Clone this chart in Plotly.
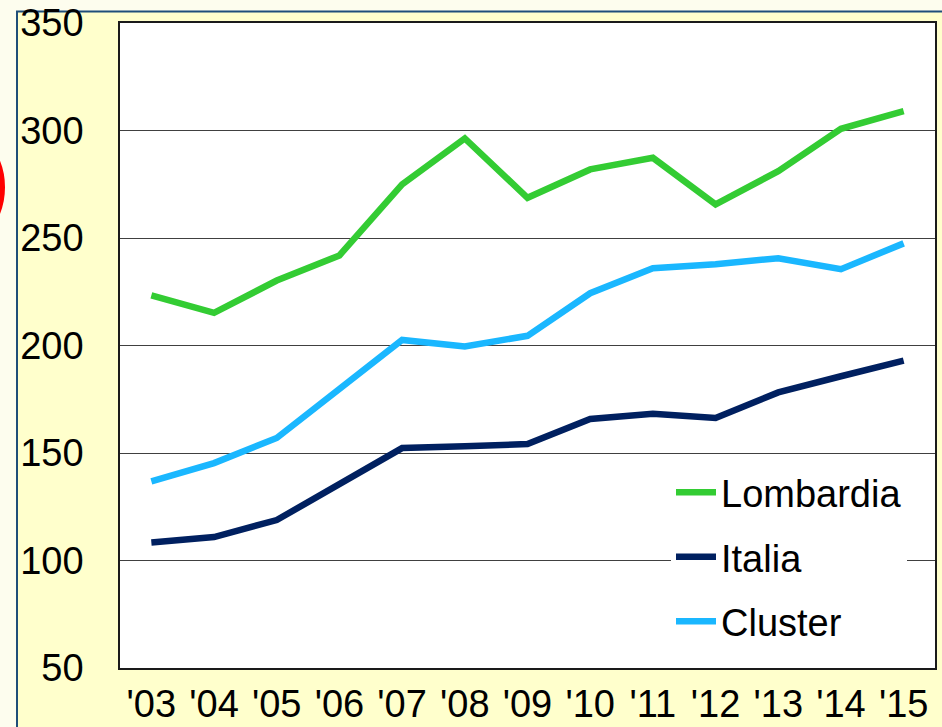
import plotly.graph_objects as go

# Figure geometry (pixels)
W, H = 942, 727
L, R, T, B = 120, 935, 22.5, 668

years = ["'03", "'04", "'05", "'06", "'07", "'08", "'09", "'10", "'11", "'12", "'13", "'14", "'15"]
lombardia = [223.3, 215.2, 230.2, 241.9, 274.9, 296.3, 268.7, 281.9, 287.3, 265.6, 281.1, 300.8, 309.0]
italia = [108.4, 110.9, 118.8, 135.9, 152.3, 153.1, 154.2, 165.8, 168.3, 166.3, 178.2, 185.7, 193.0]
cluster = [136.8, 145.3, 157.0, 180.1, 202.6, 199.6, 204.5, 224.3, 235.9, 237.8, 240.6, 235.5, 247.5]

y_ticks = [50, 100, 150, 200, 250, 300, 350]

FONT = "Liberation Sans, Arial, sans-serif"
FS = 38


def px_x(x):
    return (x - L) / (R - L)


def px_y(y):
    return (B - y) / (B - T)


fig = go.Figure()
series = [
    ("Lombardia", lombardia, "#33CC33"),
    ("Italia", italia, "#002060"),
    ("Cluster", cluster, "#1AB7FF"),
]
for i, (name, vals, col) in enumerate(series):
    fig.add_trace(go.Scatter(
        x=years, y=vals, name=name, mode="lines",
        line=dict(color=col, width=6.5),
        legendgroup=f"g{i}",
    ))

shapes = [
    # yellow panel with blue frame
    dict(type="rect", xref="paper", yref="paper", layer="below",
         x0=px_x(17), x1=px_x(960), y0=px_y(11), y1=px_y(740),
         fillcolor="#FFFFCC", line=dict(color="#1F4E79", width=2)),
    # white plotting area
    dict(type="rect", xref="paper", yref="paper", layer="below",
         x0=0, x1=1, y0=0, y1=1,
         fillcolor="white", line=dict(width=0)),
    # red ring at the left edge
    dict(type="circle", xref="paper", yref="paper", layer="above",
         x0=px_x(-132), x1=px_x(2), y0=px_y(120), y1=px_y(254),
         line=dict(color="#FF0000", width=6)),
]

fig.update_layout(
    width=W, height=H,
    margin=dict(l=L, r=W - R, t=T, b=H - B, pad=0, autoexpand=False),
    paper_bgcolor="#FDFDEE",
    plot_bgcolor="white",
    font=dict(family=FONT, size=FS, color="black"),
    shapes=shapes,
    showlegend=True,
    legend=dict(
        x=px_x(671), y=px_y(461), xanchor="left", yanchor="top",
        bgcolor="white", borderwidth=0,
        font=dict(family=FONT, size=FS, color="black"),
        traceorder="grouped", tracegroupgap=12,
        itemwidth=40,
    ),
    xaxis=dict(
        type="category", categoryorder="array", categoryarray=years,
        range=[-0.5, len(years) - 0.5], automargin=False,
        showgrid=False, zeroline=False,
        showline=True, mirror=True, linecolor="#1a1a1a", linewidth=1.5,
        ticks="", ticklabelstandoff=2,
        tickfont=dict(family=FONT, size=FS, color="black"),
    ),
    yaxis=dict(
        range=[50, 350], tickvals=y_ticks, ticktext=[str(v) for v in y_ticks],
        automargin=False,
        showgrid=True, gridcolor="#404040", gridwidth=1,
        zeroline=False,
        showline=True, mirror=True, linecolor="#1a1a1a", linewidth=1.5,
        ticks="", ticklabelstandoff=27,
        tickfont=dict(family=FONT, size=FS, color="black"),
    ),
)

fig.write_html("out.html")
